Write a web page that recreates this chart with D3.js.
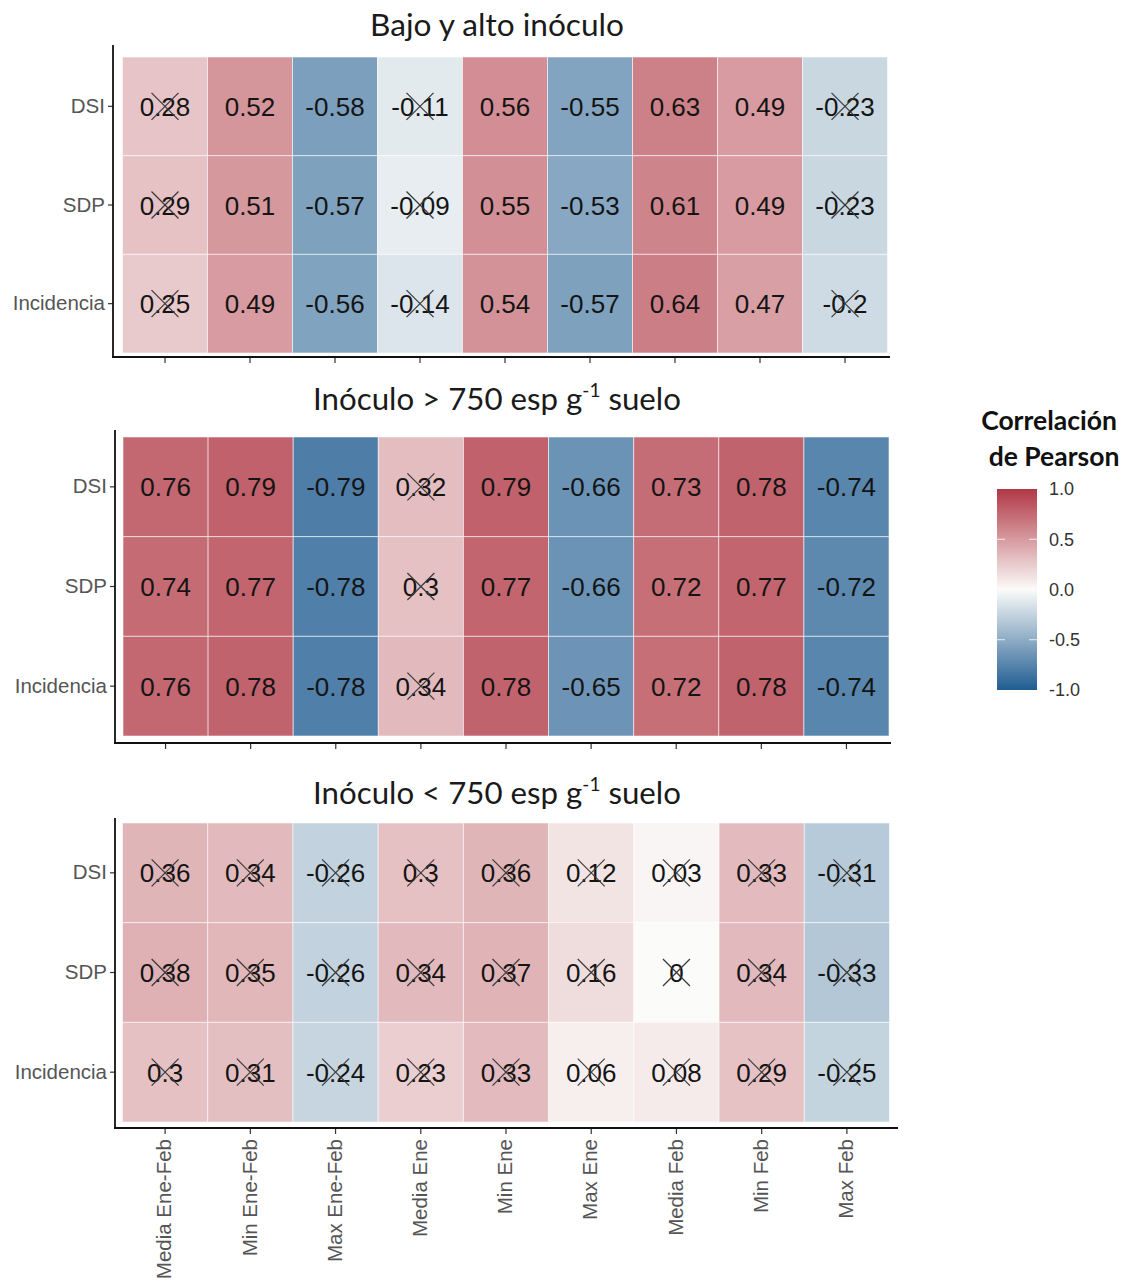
<!DOCTYPE html>
<html><head><meta charset="utf-8">
<script src="https://cdn.jsdelivr.net/npm/d3@7"></script>
<style>body{margin:0;background:#fff}svg{display:block}</style>
</head><body>
<script>
const columns = ["Media Ene-Feb","Min Ene-Feb","Max Ene-Feb","Media Ene","Min Ene","Max Ene","Media Feb","Min Feb","Max Feb"];
const rowsLabels = ["DSI","SDP","Incidencia"];
const legendTicks = [1.0, 0.5, 0.0, -0.5, -1.0];

const panel1Title = "Bajo y alto inóculo";
const panel1Values = [
  [0.28,0.52,-0.58,-0.11,0.56,-0.55,0.63,0.49,-0.23],
  [0.29,0.51,-0.57,-0.09,0.55,-0.53,0.61,0.49,-0.23],
  [0.25,0.49,-0.56,-0.14,0.54,-0.57,0.64,0.47,-0.2]
];
const panel1NonSig = [
  [1,0,0,1,0,0,0,0,1],
  [1,0,0,1,0,0,0,0,1],
  [1,0,0,1,0,0,0,0,1]
];
const panel2Values = [
  [0.76,0.79,-0.79,0.32,0.79,-0.66,0.73,0.78,-0.74],
  [0.74,0.77,-0.78,0.3,0.77,-0.66,0.72,0.77,-0.72],
  [0.76,0.78,-0.78,0.34,0.78,-0.65,0.72,0.78,-0.74]
];
const panel2NonSig = [
  [0,0,0,1,0,0,0,0,0],
  [0,0,0,1,0,0,0,0,0],
  [0,0,0,1,0,0,0,0,0]
];
const panel3Values = [
  [0.36,0.34,-0.26,0.3,0.36,0.12,0.03,0.33,-0.31],
  [0.38,0.35,-0.26,0.34,0.37,0.16,0,0.34,-0.33],
  [0.3,0.31,-0.24,0.23,0.33,0.06,0.08,0.29,-0.25]
];
const panel3NonSig = [
  [1,1,1,1,1,1,1,1,1],
  [1,1,1,1,1,1,1,1,1],
  [1,1,1,1,1,1,1,1,1]
];

const W = 1132, H = 1282;
const svg = d3.select("body").append("svg").attr("width", W).attr("height", H);

const color = d3.scaleLinear().domain([-1, 0, 1])
  .range(["#205D92", "#fbfbf9", "#B13845"]).clamp(true);

const panels = [
  {title: [{t: panel1Title}], titleY: 36, titleW: 254, values: panel1Values, ns: panel1NonSig,
   x0: 122.5, x1: 887.5, y0: 57, y1: 353, axX: 113, axTop: 45, axBot: 357, axRight: 890, xLabels: false},
  {title: [{t: "Inóculo > 750 esp g"}, {t: "-1", sup: true}, {t: " suelo"}], titleY: 410, titleW: 368, values: panel2Values, ns: panel2NonSig,
   x0: 123, x1: 889, y0: 437, y1: 736, axX: 115, axTop: 430, axBot: 743, axRight: 891, xLabels: false},
  {title: [{t: "Inóculo < 750 esp g"}, {t: "-1", sup: true}, {t: " suelo"}], titleY: 804, titleW: 368, values: panel3Values, ns: panel3NonSig,
   x0: 122.5, x1: 889.5, y0: 823, y1: 1122, axX: 115, axTop: 818, axBot: 1128, axRight: 898, xLabels: true}
];

const titleFont = "Lato, 'Open Sans', sans-serif";
const axisFont = "'Liberation Sans', Arial, sans-serif";

panels.forEach(p => {
  const x = d3.scaleBand().domain(columns).range([p.x0, p.x1]);
  const y = d3.scaleBand().domain(rowsLabels).range([p.y0, p.y1]);
  const g = svg.append("g");

  // title
  const tt = g.append("text").attr("x", 497).attr("y", p.titleY)
    .attr("text-anchor", "middle").attr("font-family", titleFont)
    .attr("font-size", 28).attr("fill", "#1a1a1a");
  p.title.forEach((s, i) => {
    const ts = tt.append("tspan").text(s.t);
    if (s.sup) ts.attr("font-size", 17).attr("dy", -12);
    else if (i > 0) ts.attr("dy", 12);
  });
  const w = tt.node().getComputedTextLength();
  const k = p.titleW / w;
  tt.attr("font-size", 28 * k);
  tt.selectAll("tspan").each(function(d, i) {
    const s = d3.select(this);
    if (p.title[i].sup) s.attr("font-size", 17 * k).attr("dy", -12 * k);
    else if (i > 0) s.attr("dy", 12 * k);
  });

  const cells = [];
  p.values.forEach((row, ri) => row.forEach((v, ci) => cells.push({r: rowsLabels[ri], c: columns[ci], v, ns: p.ns[ri][ci]})));

  g.selectAll("rect.tile").data(cells).enter().append("rect")
    .attr("x", d => x(d.c)).attr("y", d => y(d.r))
    .attr("width", x.bandwidth()).attr("height", y.bandwidth())
    .attr("fill", d => color(d.v))
    .attr("stroke", "rgba(255,255,255,0.55)").attr("stroke-width", 1);

  g.selectAll("text.val").data(cells).enter().append("text")
    .attr("x", d => x(d.c) + x.bandwidth() / 2)
    .attr("y", d => y(d.r) + y.bandwidth() / 2 + 9.5)
    .attr("text-anchor", "middle")
    .attr("font-family", axisFont)
    .attr("font-size", 26).attr("fill", "#141414")
    .text(d => String(d.v));

  const cross = g.selectAll("g.x").data(cells.filter(d => d.ns)).enter().append("g")
    .attr("transform", d => `translate(${x(d.c) + x.bandwidth() / 2},${y(d.r) + y.bandwidth() / 2})`);
  cross.append("line").attr("x1", -13.5).attr("y1", -13.5).attr("x2", 13.5).attr("y2", 13.5)
    .attr("stroke", "#3a3a3a").attr("stroke-width", 1.2);
  cross.append("line").attr("x1", -13.5).attr("y1", 13.5).attr("x2", 13.5).attr("y2", -13.5)
    .attr("stroke", "#3a3a3a").attr("stroke-width", 1.2);

  // y axis
  const yAxis = d3.axisLeft(y).tickSize(5).tickPadding(3);
  const ga = g.append("g").attr("transform", `translate(${p.axX},0)`).call(yAxis);
  ga.select(".domain").remove();
  ga.selectAll(".tick line").attr("stroke", "#333").attr("stroke-width", 1.2);
  ga.selectAll(".tick text").attr("font-family", axisFont)
    .attr("font-size", 20.5).attr("fill", "#555");
  g.append("line").attr("x1", p.axX).attr("x2", p.axX).attr("y1", p.axTop).attr("y2", p.axBot)
    .attr("stroke", "#111").attr("stroke-width", 1.8);

  // x axis
  const xAxis = d3.axisBottom(x).tickSize(6).tickPadding(4);
  const gx = g.append("g").attr("transform", `translate(0,${p.axBot})`).call(xAxis);
  gx.select(".domain").remove();
  gx.selectAll(".tick line").attr("stroke", "#333").attr("stroke-width", 1.2);
  if (p.xLabels) {
    gx.selectAll(".tick text")
      .attr("font-family", axisFont)
      .attr("font-size", 20.5).attr("fill", "#555")
      .attr("transform", "rotate(-90)")
      .attr("text-anchor", "end").attr("x", -11).attr("y", -1).attr("dy", "0.35em");
  } else {
    gx.selectAll(".tick text").remove();
  }
  g.append("line").attr("x1", p.axX - 1).attr("x2", p.axRight).attr("y1", p.axBot).attr("y2", p.axBot)
    .attr("stroke", "#111").attr("stroke-width", 1.8);
});

// legend
const lg = svg.append("g");
const lt = lg.append("text").attr("text-anchor", "middle").attr("font-family", titleFont)
  .attr("font-weight", "bold").attr("font-size", 26.5).attr("fill", "#111");
lt.append("tspan").attr("x", 1049).attr("y", 430).text("Correlación");
lt.append("tspan").attr("x", 1054).attr("y", 466).text("de Pearson");

const defs = svg.append("defs");
const grad = defs.append("linearGradient").attr("id", "cg").attr("x1", 0).attr("x2", 0).attr("y1", 1).attr("y2", 0);
d3.range(0, 1.0001, 0.05).forEach(t => {
  grad.append("stop").attr("offset", t).attr("stop-color", color(-1 + 2 * t));
});
const ly = d3.scaleLinear().domain([-1, 1]).range([690, 489]);
lg.append("rect").attr("x", 997).attr("y", ly(1)).attr("width", 40).attr("height", ly(-1) - ly(1))
  .attr("fill", "url(#cg)");
legendTicks.filter(v => Math.abs(v) === 0.5).forEach(v => {
  lg.append("line").attr("x1", 997).attr("x2", 1005).attr("y1", ly(v)).attr("y2", ly(v))
    .attr("stroke", "rgba(255,255,255,0.8)").attr("stroke-width", 1);
  lg.append("line").attr("x1", 1029).attr("x2", 1037).attr("y1", ly(v)).attr("y2", ly(v))
    .attr("stroke", "rgba(255,255,255,0.8)").attr("stroke-width", 1);
});
lg.selectAll("text.ll").data(legendTicks).enter().append("text")
  .attr("x", 1049).attr("y", v => ly(v)).attr("dy", "0.35em")
  .attr("font-family", axisFont).attr("font-size", 18).attr("fill", "#333")
  .text(v => d3.format(".1f")(v).replace("−", "-"));
</script>
</body></html>
